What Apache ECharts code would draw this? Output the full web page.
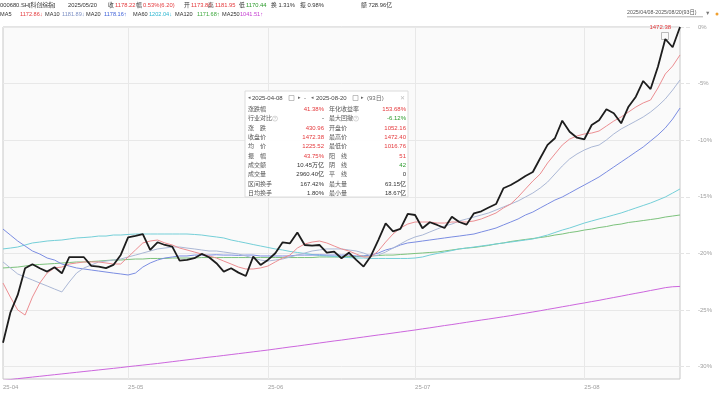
<!DOCTYPE html>
<html><head><meta charset="utf-8">
<script src="https://cdn.jsdelivr.net/npm/echarts@6/dist/echarts.min.js"></script>
<style>html,body{margin:0;padding:0;background:#fff}#c{width:719px;height:394px}</style>
</head><body><div id="c"></div>
<script>
const dates = [
'2025-04-08','2025-04-09','2025-04-10','2025-04-11','2025-04-14','2025-04-15','2025-04-16','2025-04-17','2025-04-18','2025-04-21','2025-04-22','2025-04-23','2025-04-24','2025-04-25','2025-04-28','2025-04-29','2025-04-30',
'2025-05-06','2025-05-07','2025-05-08','2025-05-09','2025-05-12','2025-05-13','2025-05-14','2025-05-15','2025-05-16','2025-05-19','2025-05-20','2025-05-21','2025-05-22','2025-05-23','2025-05-26','2025-05-27','2025-05-28','2025-05-29','2025-05-30',
'2025-06-03','2025-06-04','2025-06-05','2025-06-06','2025-06-09','2025-06-10','2025-06-11','2025-06-12','2025-06-13','2025-06-16','2025-06-17','2025-06-18','2025-06-19','2025-06-20','2025-06-23','2025-06-24','2025-06-25','2025-06-26','2025-06-27','2025-06-30',
'2025-07-01','2025-07-02','2025-07-03','2025-07-04','2025-07-07','2025-07-08','2025-07-09','2025-07-10','2025-07-11','2025-07-14','2025-07-15','2025-07-16','2025-07-17','2025-07-18','2025-07-21','2025-07-22','2025-07-23','2025-07-24','2025-07-25','2025-07-28','2025-07-29','2025-07-30','2025-07-31',
'2025-08-01','2025-08-04','2025-08-05','2025-08-06','2025-08-07','2025-08-08','2025-08-11','2025-08-12','2025-08-13','2025-08-14','2025-08-15','2025-08-18','2025-08-19','2025-08-20'];

const closePct = [-27.89,-25.24,-23.67,-21.31,-20.96,-21.31,-21.61,-21.23,-21.76,-20.34,-20.34,-20.34,-21.11,-21.17,-21.31,-21.02,-20.14,
-18.58,-18.46,-18.29,-19.70,-19.02,-19.26,-19.41,-20.64,-20.58,-20.43,-20.05,-20.34,-20.87,-21.61,-21.31,-21.70,-22.00,-20.29,-21.02,
-20.58,-19.99,-19.02,-19.11,-18.15,-19.26,-19.32,-19.26,-19.94,-19.85,-20.43,-19.94,-20.58,-21.17,-20.23,-18.82,-17.36,-18.05,-17.84,-16.52,
-16.61,-17.78,-17.25,-17.49,-17.76,-16.76,-17.23,-17.46,-16.46,-16.28,-15.95,-15.64,-14.25,-13.96,-13.58,-13.16,-12.81,-11.60,-10.42,-9.83,-8.28,-9.25,-9.78,
-9.92,-8.66,-8.24,-7.27,-7.62,-8.51,-7.04,-6.16,-4.77,-5.48,-3.51,-1.06,-1.79,0.00];

const ma5 = [-22.62,-23.86,-25.00,-25.45,-23.86,-22.62,-21.74,-21.29,-21.21,-20.94,-20.85,-20.76,-20.76,-20.76,-20.85,-20.94,-20.94,
-20.32,-19.70,-19.08,-18.91,-18.82,-19.08,-19.26,-19.53,-19.70,-19.88,-20.06,-20.23,-20.41,-20.68,-20.94,-21.21,-21.38,-21.38,-21.29,
-21.12,-20.76,-20.41,-20.15,-19.53,-19.17,-19.00,-18.91,-19.08,-19.35,-19.61,-19.79,-20.06,-20.32,-20.32,-19.79,-19.00,-18.29,-17.76,-17.41,
-17.23,-17.23,-17.23,-17.32,-17.32,-17.23,-17.23,-17.23,-17.14,-16.96,-16.70,-16.43,-15.99,-15.64,-15.02,-14.31,-13.61,-12.99,-12.02,-11.22,-10.43,-9.90,-9.63,
-9.45,-9.37,-9.19,-8.75,-8.31,-7.95,-7.51,-7.07,-6.71,-6.45,-5.39,-4.15,-3.45,-2.47];

const ma10 = [-20.76,-21.29,-21.82,-22.09,-22.35,-22.62,-22.88,-23.15,-23.41,-22.53,-21.74,-21.29,-21.03,-20.76,-20.68,-20.59,-20.50,
-20.32,-20.15,-19.97,-19.79,-19.61,-19.53,-19.44,-19.44,-19.53,-19.61,-19.70,-19.79,-19.79,-19.88,-19.97,-20.06,-20.23,-20.41,-20.59,
-20.68,-20.59,-20.50,-20.32,-20.15,-19.97,-19.79,-19.70,-19.61,-19.61,-19.61,-19.70,-19.79,-19.97,-20.23,-20.15,-19.88,-19.53,-19.17,-18.82,
-18.55,-18.38,-18.11,-17.85,-17.58,-17.41,-17.14,-16.96,-16.79,-16.61,-16.43,-16.17,-15.90,-15.64,-15.37,-15.02,-14.67,-14.23,-13.70,-12.99,-12.28,-11.66,-11.22,
-10.87,-10.60,-10.43,-9.98,-9.45,-9.01,-8.66,-8.31,-7.95,-7.51,-6.98,-6.36,-5.57,-4.68];

const ma20 = [-17.85,-18.38,-18.91,-19.35,-19.79,-20.06,-20.41,-20.59,-20.94,-21.12,-21.29,-21.38,-21.47,-21.56,-21.65,-21.74,-21.82,
-21.91,-21.74,-21.21,-20.85,-20.59,-20.41,-20.32,-20.23,-20.23,-20.15,-20.15,-20.15,-20.12,-20.15,-20.15,-20.18,-20.15,-20.15,-20.23,
-20.23,-20.23,-20.23,-20.23,-20.15,-20.15,-20.15,-20.12,-20.15,-20.15,-20.15,-20.15,-20.23,-20.23,-20.15,-19.97,-19.70,-19.53,-19.26,-19.08,
-19.00,-18.91,-18.82,-18.73,-18.64,-18.55,-18.47,-18.38,-18.29,-18.11,-17.94,-17.76,-17.49,-17.23,-16.96,-16.61,-16.35,-15.99,-15.64,-15.29,-15.02,-14.67,-14.31,
-13.96,-13.61,-13.25,-12.81,-12.37,-11.93,-11.49,-11.04,-10.60,-10.07,-9.54,-8.92,-8.13,-7.16];

const ma60 = [-19.61,-19.53,-19.44,-19.26,-19.08,-19.00,-18.91,-18.86,-18.82,-18.73,-18.64,-18.60,-18.55,-18.47,-18.47,-18.38,-18.38,
-18.33,-18.29,-18.29,-18.29,-18.29,-18.29,-18.29,-18.29,-18.29,-18.33,-18.38,-18.47,-18.55,-18.64,-18.82,-18.95,-19.08,-19.22,-19.35,
-19.48,-19.61,-19.70,-19.83,-19.92,-20.01,-20.10,-20.19,-20.23,-20.28,-20.32,-20.37,-20.41,-20.41,-20.45,-20.45,-20.45,-20.45,-20.45,-20.45,
-20.41,-20.32,-20.15,-20.01,-19.88,-19.75,-19.61,-19.53,-19.44,-19.35,-19.26,-19.17,-19.08,-19.00,-18.91,-18.82,-18.73,-18.55,-18.38,-18.16,-17.94,-17.76,-17.54,
-17.32,-17.14,-16.96,-16.79,-16.61,-16.43,-16.21,-15.99,-15.77,-15.55,-15.29,-15.02,-14.67,-14.31];

const ma120 = [-21.29,-21.25,-21.21,-21.12,-21.03,-20.98,-20.94,-20.90,-20.85,-20.81,-20.76,-20.76,-20.72,-20.68,-20.63,-20.59,-20.59,
-20.54,-20.50,-20.50,-20.45,-20.45,-20.45,-20.41,-20.41,-20.41,-20.41,-20.37,-20.37,-20.37,-20.37,-20.37,-20.37,-20.37,-20.37,-20.37,
-20.37,-20.37,-20.37,-20.37,-20.37,-20.37,-20.37,-20.32,-20.32,-20.32,-20.32,-20.28,-20.28,-20.23,-20.23,-20.19,-20.15,-20.15,-20.10,-20.06,
-20.01,-19.97,-19.92,-19.88,-19.79,-19.70,-19.61,-19.53,-19.48,-19.39,-19.30,-19.17,-19.08,-18.95,-18.86,-18.77,-18.69,-18.60,-18.51,-18.38,-18.29,-18.16,-18.07,
-17.94,-17.85,-17.72,-17.63,-17.49,-17.41,-17.27,-17.19,-17.10,-17.01,-16.92,-16.79,-16.70,-16.61];

const ma250 = [-31.22,-31.15,-31.07,-31.00,-30.93,-30.86,-30.79,-30.72,-30.65,-30.58,-30.51,-30.44,-30.37,-30.30,-30.23,-30.16,-30.09,
-30.01,-29.94,-29.87,-29.80,-29.73,-29.65,-29.57,-29.49,-29.41,-29.33,-29.25,-29.17,-29.10,-29.02,-28.94,-28.86,-28.78,-28.70,-28.62,
-28.54,-28.45,-28.36,-28.27,-28.19,-28.10,-28.01,-27.92,-27.83,-27.74,-27.66,-27.57,-27.48,-27.39,-27.30,-27.21,-27.13,-27.04,-26.95,-26.86,
-26.77,-26.67,-26.58,-26.48,-26.38,-26.29,-26.19,-26.09,-25.99,-25.89,-25.80,-25.70,-25.60,-25.50,-25.39,-25.29,-25.18,-25.07,-24.95,-24.84,-24.72,-24.61,-24.49,
-24.38,-24.26,-24.15,-24.02,-23.90,-23.78,-23.65,-23.53,-23.41,-23.28,-23.16,-23.03,-22.95,-22.92];

const yTicks = [0,-5,-10,-15,-20,-25,-30];
const lastCloseLabel = '1472.38';

const headerRow1 = [
  {x:0, t:'000680.SH[科创综指]', c:'#333'},
  {x:68, t:'2025/05/20', c:'#333'},
  {x:108, t:'收', c:'#333'}, {x:115, t:'1178.22', c:'#e4393c'},
  {x:136, t:'幅', c:'#333'}, {x:143, t:'0.53%(6.20)', c:'#e4393c'},
  {x:184, t:'开', c:'#333'}, {x:191, t:'1173.80', c:'#e4393c'},
  {x:208, t:'高', c:'#333'}, {x:215, t:'1181.95', c:'#e4393c'},
  {x:239, t:'低', c:'#333'}, {x:246, t:'1170.44', c:'#2a9a2a'},
  {x:271, t:'换 1.31%', c:'#333'},
  {x:300, t:'振 0.98%', c:'#333'},
  {x:361, t:'额 728.96亿', c:'#333'}
];
const headerRow2 = [
  {x:0, t:'MA5', c:'#333'}, {x:20, t:'1172.86↓', c:'#e4393c'},
  {x:45, t:'MA10', c:'#333'}, {x:62, t:'1181.89↓', c:'#7d90c4'},
  {x:86, t:'MA20', c:'#333'}, {x:104, t:'1178.16↑', c:'#3c5fd8'},
  {x:133, t:'MA60', c:'#333'}, {x:149, t:'1202.04↓', c:'#2cb6d0'},
  {x:175, t:'MA120', c:'#333'}, {x:197, t:'1171.68↑', c:'#3da83d'},
  {x:222, t:'MA250', c:'#333'}, {x:240, t:'1041.51↑', c:'#c43bd0'}
];

const boxRows = [
  ['涨跌幅','41.38%','#e4393c','年化收益率','153.68%','#e4393c'],
  ['行业对比','-','#333','最大回撤','-6.12%','#2a9a2a'],
  ['涨　跌','430.96','#e4393c','开盘价','1052.16','#e4393c'],
  ['收盘价','1472.38','#e4393c','最高价','1472.40','#e4393c'],
  ['均　价','1225.52','#e4393c','最低价','1016.76','#e4393c'],
  ['振　幅','43.75%','#e4393c','阳　线','51','#e4393c'],
  ['成交额','10.45万亿','#333','阴　线','42','#2a9a2a'],
  ['成交量','2960.40亿','#333','平　线','0','#333'],
  ['区间换手','167.42%','#333','最大量','63.15亿','#333'],
  ['日均换手','1.80%','#333','最小量','18.67亿','#333']
];

const FF = '"Liberation Sans", "Noto Sans CJK SC", sans-serif';
function txt(x, y, t, c, size, align) {
  return {type:'text', x:x, y:y, silent:true, style:{text:t, fill:c, fontSize:size||5.8, fontFamily:FF, align:align||'left', verticalAlign:'middle'}};
}
const graphics = [];
headerRow1.forEach(h => graphics.push(txt(h.x, 5, h.t, h.c, 5.8)));
headerRow2.forEach(h => graphics.push(txt(h.x, 14.5, h.t, h.c, 5.6)));
graphics.push(txt(627, 13, '2025/04/08-2025/08/20(93日)', '#555', 5.3));
graphics.push({type:'line', silent:true, shape:{x1:627,y1:16.8,x2:703,y2:16.8}, style:{stroke:'#777', lineWidth:0.6}});
graphics.push(txt(705, 13, '▼', '#777', 5.5));
graphics.push({type:'circle', silent:true, shape:{cx:717, cy:14, r:1.5}, style:{fill:'#f0a030'}});

// info box
const bx = 245, by = 91, bw = 163, bh = 106;
graphics.push({type:'rect', silent:true, z:100, shape:{x:bx, y:by, width:bw, height:bh}, style:{fill:'rgba(255,255,255,0.96)', stroke:'#dcdcdc', lineWidth:1}});
const boxHead = [
  txt(248, 98, '◂', '#666', 5), txt(252, 98, '2025-04-08', '#444', 6),
  txt(298, 98, '▸', '#666', 5), txt(304, 98, '-', '#666', 6),
  txt(311, 98, '◂', '#666', 5), txt(316, 98, '2025-08-20', '#444', 6),
  txt(361, 98, '▸', '#666', 5), txt(367, 98, '(93日)', '#666', 6),
  txt(400, 98, '✕', '#bbb', 6)
];
boxHead.forEach(g => { g.z = 101; graphics.push(g); });
[289, 353].forEach(x => graphics.push({type:'rect', z:101, silent:true, shape:{x:x, y:95.5, width:5, height:5}, style:{fill:'none', stroke:'#999', lineWidth:0.6}}));
boxRows.forEach((r, k) => {
  const y = 109.3 + 9.33 * k;
  [txt(248, y, r[0], '#555', 6), txt(324, y, r[1], r[2], 6, 'right'),
   txt(329, y, r[3], '#555', 6), txt(406, y, r[4], r[5], 6, 'right')].forEach(g => { g.z = 101; graphics.push(g); });
});
[[275,118.6],[356,118.6]].forEach(p => {
  graphics.push({type:'circle', z:101, silent:true, shape:{cx:p[0], cy:p[1], r:2.5}, style:{fill:'none', stroke:'#bbb', lineWidth:0.6}});
  const g = txt(p[0], p[1], '?', '#bbb', 4.2, 'center'); g.z = 101; graphics.push(g);
});

const monthStart = (i) => i === 0 || dates[i].slice(5,7) !== dates[i-1].slice(5,7);

function ln(name, data, color, width, z) {
  return {name:name, type:'line', data:data, symbol:'none', smooth:false, z:z||2,
    lineStyle:{color:color, width:width||1}, itemStyle:{color:color}, silent:true, animation:false};
}

const chart = echarts.init(document.getElementById('c'), null, {renderer:'canvas'});
const closeSeries = ln('收盘', closePct, '#1d1d1d', 1.8, 5);
closeSeries.markPoint = {
  symbol:'rect', symbolSize:7, symbolOffset:[-15, 9], silent:true, animation:false,
  itemStyle:{color:'rgba(0,0,0,0)', borderColor:'#aaa', borderWidth:0.8},
  label:{show:true, formatter:lastCloseLabel, position:[10, -5], align:'right', verticalAlign:'middle', color:'#e4393c', fontSize:6, fontFamily:FF},
  data:[{coord:[dates.length-1, closePct[closePct.length-1]]}]
};
chart.setOption({
  animation:false,
  backgroundColor:'#ffffff',
  grid:{left:3, right:39, top:27, bottom:15, show:true, backgroundColor:'#fafafa', borderColor:'#c8c8c8', borderWidth:1},
  xAxis:{type:'category', data:dates, boundaryGap:false,
    axisLine:{show:false}, axisTick:{show:false},
    axisLabel:{interval:(i)=>monthStart(i), formatter:(v)=>v.slice(2,4)+'-'+v.slice(5,7), align:'left', color:'#a0a0a0', fontSize:6, fontFamily:FF, margin:5},
    splitLine:{show:true, interval:(i)=>monthStart(i) && i>0, lineStyle:{color:'#e8e8e8', width:1}}},
  yAxis:{type:'value', position:'right', min:-31.1, max:0, scale:true,
    axisLine:{show:false},
    axisTick:{show:true, customValues:yTicks, length:12, inside:false, lineStyle:{color:'#e4e4e4', type:'dashed'}},
    axisLabel:{customValues:yTicks, formatter:(v)=>v+'%', color:'#a0a0a0', fontSize:6, fontFamily:FF, margin:18, align:'left'},
    splitLine:{show:true, lineStyle:{color:'#e8e8e8', width:1}}},
  series:[
    ln('MA250', ma250, '#cc66dd', 1, 2),
    ln('MA120', ma120, '#7cc27c', 1, 2),
    ln('MA60', ma60, '#74cfd8', 1, 2),
    ln('MA20', ma20, '#7b8de2', 1, 3),
    ln('MA10', ma10, '#abb8d6', 1, 3),
    ln('MA5', ma5, '#ec8e92', 1, 4),
    closeSeries
  ],
  graphic:graphics
});
</script></body></html>
